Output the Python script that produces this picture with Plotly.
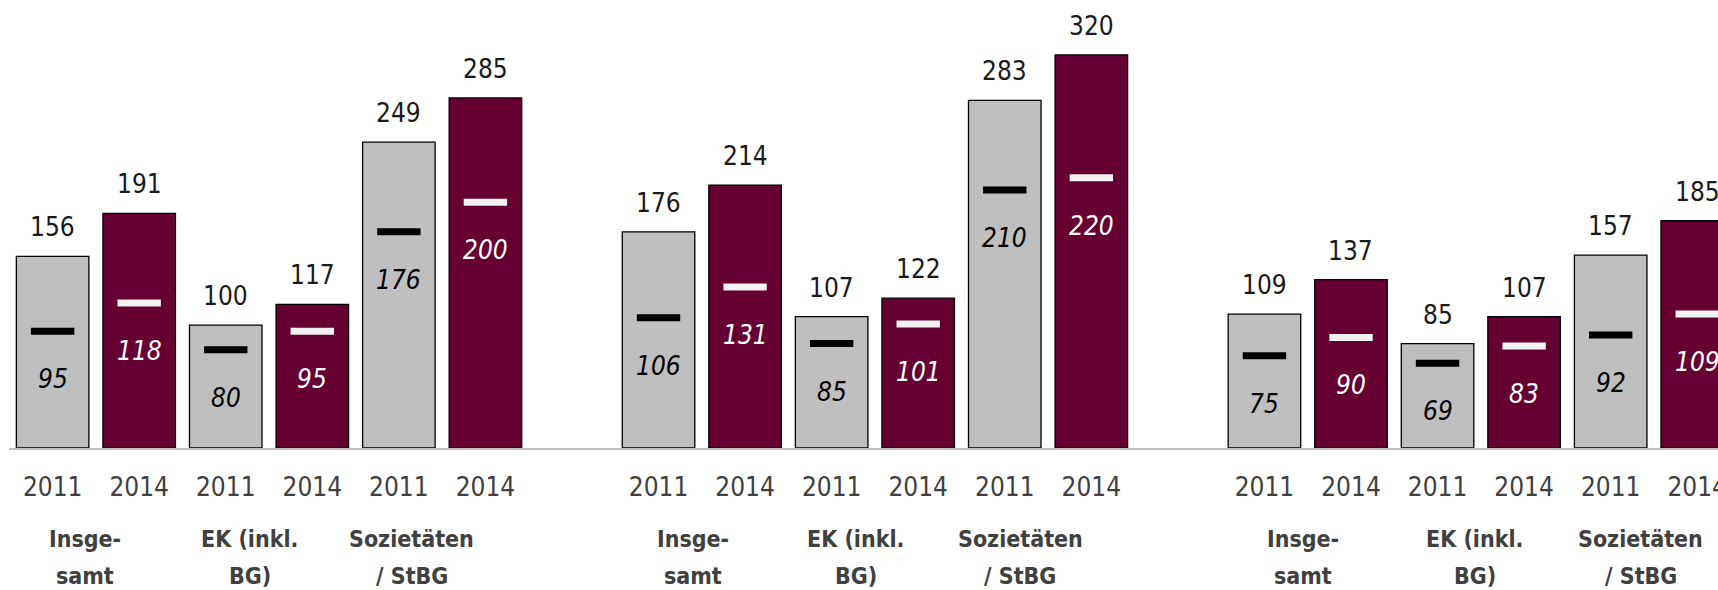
import plotly.graph_objects as go

# ---- data ----
years = ["2011", "2014"]
categories = ["Insge-<br>samt", "EK (inkl.<br>BG)", "Sozietäten<br>/ StBG"]
n_panels = 3

total_2011 = [156, 100, 249, 176, 107, 283, 109, 85, 157]
total_2014 = [191, 117, 285, 214, 122, 320, 137, 107, 185]
inner_2011 = [95, 80, 176, 106, 85, 210, 75, 69, 92]
inner_2014 = [118, 95, 200, 131, 101, 220, 90, 83, 109]

# ---- layout constants ----
FONT = "DejaVu Sans Condensed, Liberation Sans Narrow, sans-serif"
GRAY = "#BFBFBF"
MAROON = "#660033"
label_offsets = [[0.37, 2.28, 4.15], [0.40, 2.28, 4.18], [0.45, 2.43, 4.35]]

x11, x14 = [], []
for p in range(n_panels):
    for c in range(len(categories)):
        base = p * 7 + c * 2
        x11.append(base)
        x14.append(base + 1)

fig = go.Figure()
fig.add_trace(go.Bar(x=x11, y=total_2011, width=0.838,
                     marker=dict(color=GRAY, line=dict(color="#000000", width=1.3)),
                     hoverinfo="skip"))
fig.add_trace(go.Bar(x=x14, y=total_2014, width=0.838,
                     marker=dict(color=MAROON, line=dict(color="#000000", width=1.3)),
                     hoverinfo="skip"))
fig.add_trace(go.Scatter(x=x11, y=inner_2011, mode="markers",
                         marker=dict(symbol="line-ew", size=31,
                                     line=dict(color="#000000", width=7)),
                         hoverinfo="skip"))
fig.add_trace(go.Scatter(x=x14, y=inner_2014, mode="markers",
                         marker=dict(symbol="line-ew", size=31,
                                     line=dict(color="#F2F2F2", width=7)),
                         hoverinfo="skip"))

ann = []
for xs, tots, inns, col in [(x11, total_2011, inner_2011, "#000000"),
                            (x14, total_2014, inner_2014, "#FFFFFF")]:
    for x, t, v in zip(xs, tots, inns):
        ann.append(dict(x=x, y=t, xref="x", yref="y", text=str(t), showarrow=False,
                        yanchor="middle", yshift=29,
                        font=dict(family=FONT, size=26, color="#1A1A1A")))
        ann.append(dict(x=x, y=v, xref="x", yref="y", text=f"<i>{v}</i>", showarrow=False,
                        yanchor="middle", yshift=-48,
                        font=dict(family=FONT, size=26, color=col)))

for p in range(n_panels):
    for c, cat in enumerate(categories):
        for li, line in enumerate(cat.split("<br>")):
            ann.append(dict(x=p * 7 + label_offsets[p][c], y=0, xref="x", yref="y",
                            text=f"<b>{line}</b>", showarrow=False,
                            yanchor="middle", yshift=-91 - 37 * li,
                            font=dict(family=FONT, size=23, color="#404040")))

fig.update_layout(
    width=1718, height=590,
    margin=dict(l=9, r=0, t=0, b=142, autoexpand=False),
    paper_bgcolor="white", plot_bgcolor="white",
    showlegend=False, barmode="overlay", hovermode=False,
    annotations=ann,
    xaxis=dict(range=[-0.504, 19.24], tickvals=x11 + x14,
               ticktext=[years[0]] * len(x11) + [years[1]] * len(x14),
               tickfont=dict(family=FONT, size=26, color="#404040"),
               showgrid=False, zeroline=False, showline=True,
               linecolor=GRAY, linewidth=2, ticks="", ticklabelstandoff=15,
               ticklabeloverflow="allow", automargin=False,
               fixedrange=True),
    yaxis=dict(range=[0, 364.7], visible=False, showgrid=False, zeroline=False,
               automargin=False, fixedrange=True),
)

# remove the default page margin so the 1718x590 figure fills the window exactly
fig.write_html("out.html",
               config={"displayModeBar": False, "staticPlot": True},
               post_script="document.body.style.margin='0';"
                           "document.body.style.overflow='hidden';")
